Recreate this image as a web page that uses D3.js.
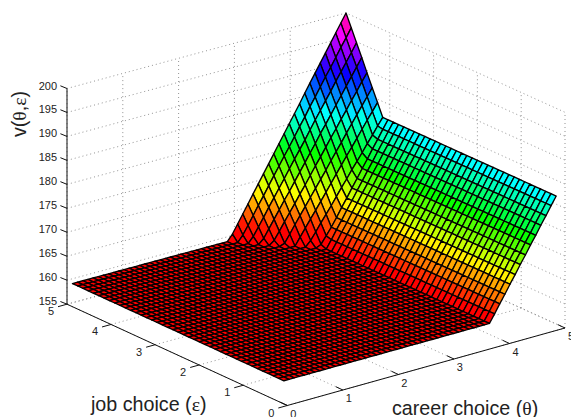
<!DOCTYPE html>
<html><head><meta charset="utf-8">
<script src="https://cdn.jsdelivr.net/npm/d3@7"></script>
<style>html,body{margin:0;padding:0;background:#fff}svg{display:block}text{font-family:"Liberation Sans",Arial,sans-serif;fill:#222}</style>
</head><body><svg id="c" width="571" height="417"></svg>
<script>
// Tick labels
const thetaTicks=[0,1,2,3,4,5];
const epsTicks=[0,1,2,3,4,5];
const zTicks=[155,160,165,170,175,180,185,190,195,200];
// Grid positions of the mesh
const meshTheta=[0.0975,0.19,0.2825,0.375,0.4675,0.56,0.6525,0.745,0.8375,0.93,1.0225,1.115,1.2075,1.3,1.3925,1.485,1.5775,1.67,1.7625,1.855,1.9475,2.04,2.1325,2.225,2.3175,2.41,2.5025,2.595,2.6875,2.78,2.8725,2.965,3.0575,3.15,3.2425,3.335,3.4275,3.52,3.6125,3.705,3.7975,3.89,3.9825,4.075,4.1675,4.26,4.3525,4.445,4.5375,4.63,4.7225,4.815,4.9075,5.0];
const meshEps=[0.2,0.32,0.44,0.56,0.68,0.8,0.92,1.04,1.16,1.28,1.4,1.52,1.64,1.76,1.88,2.0,2.12,2.24,2.36,2.48,2.6,2.72,2.84,2.96,3.08,3.2,3.32,3.44,3.56,3.68,3.8,3.92,4.04,4.16,4.28,4.4,4.52,4.64,4.76,4.88,5.0];
// Height of the flat part of the surface
const floorValue=159.0;
// Height of the right-hand ramp, by theta
const rampTheta=[3.7975,3.89,3.9825,4.075,4.1675,4.26,4.3525,4.445,4.5375,4.63,4.7225,4.815,4.9075,5.0];
const rampValue=[159.0,160.7,162.5,164.2,166.0,167.7,169.5,171.2,173.0,174.7,176.5,178.2,180.0,181.7];
// Rear peak: for each theta, heights read from epsilon = 5.0 downward
const peakTheta=[2.965,3.0575,3.15,3.2425,3.335,3.4275,3.52,3.6125,3.705,3.7975,3.89,3.9825,4.075,4.1675,4.26,4.3525,4.445,4.5375,4.63,4.7225,4.815,4.9075,5.0];
const peakValue=[
[160.3],
[162.1,160.3],
[163.9,162.0,160.2],
[165.7,163.8,161.9,160.0],
[167.5,165.6,163.6,161.7,159.8],
[169.3,167.3,165.4,163.4,161.4,159.4],
[171.1,169.1,167.1,165.1,163.1,161.0,159.0],
[172.9,170.9,168.8,166.8,164.7,162.7,160.6],
[174.7,172.6,170.5,168.4,166.3,164.3,162.2,160.1],
[176.5,174.4,172.3,170.1,168.0,165.9,163.8,161.6,159.5],
[178.3,176.1,174.0,171.8,169.6,167.5,165.3,163.2,161.0],
[180.1,177.9,175.7,173.5,171.3,169.1,166.9,164.7,162.5],
[181.9,179.7,177.4,175.2,173.0,170.7,168.5,166.2],
[183.7,181.4,179.2,176.9,174.6,172.3,170.1,167.8],
[185.6,183.3,181.0,178.7,176.3,174.0,171.7,169.4],
[187.4,185.0,182.7,180.3,178.0,175.6,173.3,170.9],
[189.2,186.8,184.4,182.0,179.6,177.2,174.9,172.5],
[191.0,188.6,186.1,183.7,181.3,178.9,176.4,174.0],
[192.8,190.3,187.9,185.4,182.9,180.5,178.0,175.5],
[194.6,192.1,189.6,187.1,184.6,182.1,179.6,177.1],
[196.4,193.9,191.3,188.8,186.2,183.7,181.2,178.6],
[198.2,195.6,193.0,190.5,187.9,185.3,182.7,180.2],
[200.0,197.4,194.8,192.2,189.5,186.9,184.3,181.7]
];

function height(i,j){
  const th=meshTheta[i], pi=peakTheta.indexOf(th), fromBack=meshEps.length-1-j;
  if(pi>=0 && fromBack<peakValue[pi].length) return peakValue[pi][fromBack];
  const ri=rampTheta.indexOf(th);
  return ri>=0?rampValue[ri]:floorValue;
}

// Projection of the axes box, from its four floor corners
const u=d3.scaleLinear().domain([0,5]).range([0,1]);
const v=d3.scaleLinear().domain([0,5]).range([0,1]);
const zLift=d3.scaleLinear().domain([155,200]).range([0,215.7]);
const frontC=[287.3,405.5],leftC=[67,304.2],rightC=[565,328],backC=[346,228.7];
function proj(th,ep,z){
  const a=u(th),b=v(ep);
  const x=(1-a)*(1-b)*frontC[0]+a*(1-b)*rightC[0]+(1-a)*b*leftC[0]+a*b*backC[0];
  const y=(1-a)*(1-b)*frontC[1]+a*(1-b)*rightC[1]+(1-a)*b*leftC[1]+a*b*backC[1];
  return [x,y-zLift(z)];
}
const hue=d3.scaleLinear().domain([floorValue,200]).range([0,1-1/64]).clamp(true);
const colour=z=>d3.hsl(Math.floor(hue(z)*64)/64*360,1,0.5).formatHex();

const svg=d3.select("#c");
const line=d3.line();

// Back grid
const grid=svg.append("g").attr("fill","none").attr("stroke","#777").attr("stroke-width",0.8).attr("stroke-dasharray","1 3");
const gl=pts=>grid.append("path").attr("d",line(pts));
zTicks.forEach(z=>gl([proj(0,5,z),proj(5,5,z),proj(5,0,z)]));
thetaTicks.forEach(t=>{gl([proj(t,5,155),proj(t,5,200)]);gl([proj(t,0,155),proj(t,5,155)]);});
epsTicks.forEach(e=>{gl([proj(5,e,155),proj(5,e,200)]);gl([proj(0,e,155),proj(5,e,155)]);});

// Surface, far cells first
const cells=[];
for(let i=meshTheta.length-2;i>=0;i--)for(let j=meshEps.length-2;j>=0;j--){
  const q=[[i,j],[i+1,j],[i+1,j+1],[i,j+1]].map(([a,b])=>proj(meshTheta[a],meshEps[b],height(a,b)));
  cells.push({q,c:colour(height(i,j))});
}
svg.append("g").attr("stroke","#050000").attr("stroke-width",1.35).attr("stroke-linejoin","round")
 .selectAll("path").data(cells).join("path").attr("d",d=>line(d.q)+"Z").attr("fill",d=>d.c);

// Axes
const ax=svg.append("g").attr("fill","none").attr("stroke","#111").attr("stroke-width",1);
const al=pts=>ax.append("path").attr("d",line(pts));
al([proj(0,5,155),proj(0,5,200)]);
al([proj(0,5,155),proj(0,0,155)]);
al([proj(0,0,155),proj(5,0,155)]);
const label=(x,y,t,anchor="middle",size=11)=>svg.append("text").attr("x",x).attr("y",y).attr("text-anchor",anchor).attr("font-size",size).text(t);
zTicks.forEach(z=>{const p=proj(0,5,z);al([p,[p[0]-6.6,p[1]-2.7]]);label(p[0]-10,p[1]+1,z,"end");});
epsTicks.forEach(e=>{const p=proj(0,e,155);al([p,[p[0]-9,p[1]+2.5]]);label(p[0]-16,p[1]+11,e);});
thetaTicks.forEach(t=>{const p=proj(t,0,155);al([p,[p[0]-7,p[1]-3.3]]);label(p[0]+6,p[1]+12,t);});

// Titles
const greek=sel=>sel.attr("font-family","'Liberation Serif',serif");
const xl=label(91,411,"","start",19.7);
xl.append("tspan").text("job choice (");
greek(xl.append("tspan").text("ε"));
xl.append("tspan").text(")");
const tl=label(392,415,"","start",19.7);
tl.append("tspan").text("career choice (");
greek(tl.append("tspan").text("θ"));
tl.append("tspan").text(")");
const zl=svg.append("text").attr("transform","translate(26,114) rotate(-90)").attr("text-anchor","middle").attr("font-size",19.7);
zl.append("tspan").text("v(");
greek(zl.append("tspan").text("θ"));
zl.append("tspan").text(",");
greek(zl.append("tspan").text("ε"));
zl.append("tspan").text(")");
</script></body></html>
